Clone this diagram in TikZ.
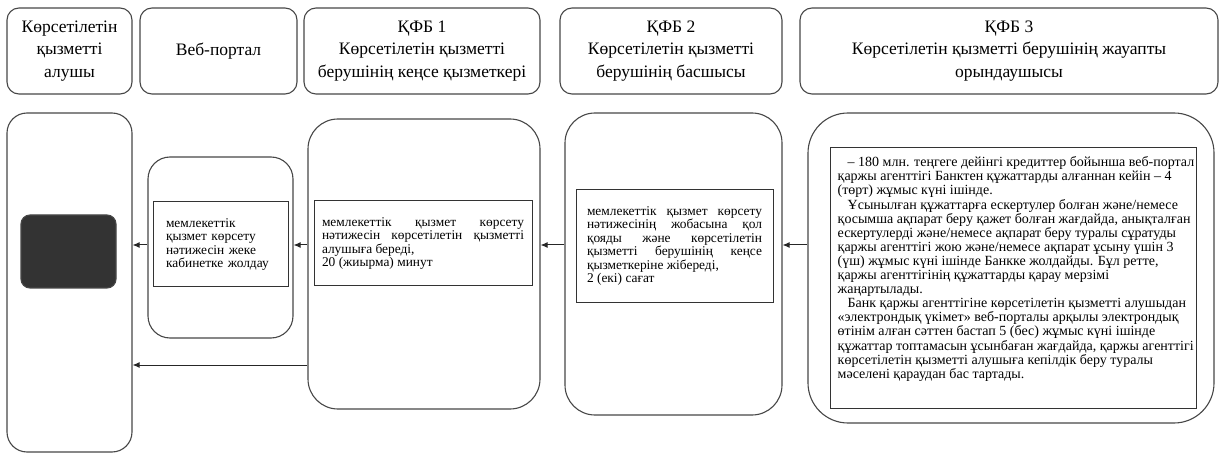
\documentclass[tikz,border=0pt]{standalone}
\usepackage{fontspec}
\setmainfont{Liberation Serif}
\usetikzlibrary{arrows.meta,calc}
\newcommand\hdfont{\fontsize{17.5}{22.5}\selectfont}
\newcommand\bxfont{\fontsize{13.4}{13.4}\selectfont}
\newcommand\bigfont{\fontsize{14}{14.1}\selectfont}
\newcommand\ind{\hspace*{10pt}}
\begin{document}
\begin{tikzpicture}[x=1pt,y=-1pt,
  frame/.style={draw=black!72, line width=1.1pt, rounded corners=#1, inner sep=0pt},
  rbox/.style={draw=black!80, line width=1pt, inner ysep=0pt, font=\bxfont},
  arr/.style={draw=black!85, line width=1pt, -{Latex[length=7pt,width=6pt]}}]
\useasboundingbox (0,0) rectangle (1223,454);
% header
\node[frame=12pt, minimum width=125pt, minimum height=86pt, font=\hdfont, align=center] (h1) at (69.5,51) {Көрсетілетін\\қызметті\\алушы};
\node[frame=12pt, minimum width=157pt, minimum height=86pt, font=\hdfont, align=center] (h2) at (218.5,51) {Веб-портал};
\node[frame=12pt, minimum width=236pt, minimum height=86pt, font=\hdfont, align=center] (h3) at (422,51) {ҚФБ 1\\Көрсетілетін қызметті\\берушінің кеңсе қызметкері};
\node[frame=12pt, minimum width=222pt, minimum height=86pt, font=\hdfont, align=center] (h4) at (671,51) {ҚФБ 2\\Көрсетілетін қызметті\\берушінің басшысы};
\node[frame=12pt, minimum width=418pt, minimum height=86pt, font=\hdfont, align=center] (h5) at (1009,51) {ҚФБ 3\\Көрсетілетін қызметті берушінің жауапты\\орындаушысы};
% lanes
\node[frame=20pt, minimum width=125pt, minimum height=339pt] (rcv) at (69.5,282.5) {};
\node[frame=9pt, fill=black!80, minimum width=95pt, minimum height=73pt] (dk) at (68.5,251.5) {};
\node[frame=22pt, minimum width=145pt, minimum height=181pt] (wb) at (220.5,247.5) {};
\node[frame=30pt, minimum width=232pt, minimum height=290pt] (k1) at (424,264) {};
\node[frame=30pt, minimum width=217pt, minimum height=302pt] (k2) at (673.5,264) {};
\node[frame=40pt, minimum width=406pt, minimum height=310pt] (k3) at (1011,268) {};
% inner rectangles
\node[rbox, inner xsep=13pt, text width=109pt, minimum height=85pt, align=left] (wr) at (220.5,244.5)
 {мемлекеттік\\қызмет көрсету\\нәтижесін жеке\\кабинетке жолдау};
\node[rbox, inner xsep=8pt, text width=202pt, minimum height=85pt, align=justify] (r1) at (423,243.5)
 {мемлекеттік қызмет көрсету\linebreak нәтижесін көрсетілетін қызметті\linebreak алушыға береді,\\ 20 (жиырма) минут\par\vspace*{8pt}};
\node[rbox, inner xsep=11pt, text width=175pt, minimum height=112pt, align=justify] (r2) at (674.5,246)
 {мемлекеттік қызмет көрсету\linebreak нәтижесінің жобасына қол\linebreak қояды және көрсетілетін\linebreak қызметті берушінің кеңсе\linebreak қызметкеріне жібереді,\\ 2 (екі) сағат\par\vspace*{8pt}};
\node[rbox, minimum width=366pt, minimum height=260pt] (r3) at (1013,278) {};
\node[font=\bigfont, anchor=north west, inner sep=0pt, align=left] (t3) at ([shift={(8,9)}]r3.north west)
 {\ind– 180 млн. теңгеге дейінгі кредиттер бойынша веб-портал\\
қаржы агенттігі Банктен құжаттарды алғаннан кейін – 4\\
(төрт) жұмыс күні ішінде.\\
\ind Ұсынылған құжаттарға ескертулер болған және/немесе\\
қосымша ақпарат беру қажет болған жағдайда, анықталған\\
ескертулерді және/немесе ақпарат беру туралы сұратуды\\
қаржы агенттігі жою және/немесе ақпарат ұсыну үшін 3\\
(үш) жұмыс күні ішінде Банкке жолдайды. Бұл ретте,\\
қаржы агенттігінің құжаттарды қарау мерзімі\\
жаңартылады.\\
\ind Банк қаржы агенттігіне көрсетілетін қызметті алушыдан\\
«электрондық үкімет» веб-порталы арқылы электрондық\\
өтінім алған сәттен бастап 5 (бес) жұмыс күні ішінде\\
құжаттар топтамасын ұсынбаған жағдайда, қаржы агенттігі\\
көрсетілетін қызметті алушыға кепілдік беру туралы\\
мәселені қараудан бас тартады.};
% arrows
\coordinate (ya) at (0,245);
\coordinate (yb) at (0,365);
\draw[arr] (k3.west |- ya) -- (k2.east |- ya);
\draw[arr] (k2.west |- ya) -- (k1.east |- ya);
\draw[arr] (k1.west |- ya) -- (wb.east |- ya);
\draw[arr] (wb.west |- ya) -- (rcv.east |- ya);
\draw[arr] (k1.west |- yb) -- (rcv.east |- yb);
\end{tikzpicture}
\end{document}
